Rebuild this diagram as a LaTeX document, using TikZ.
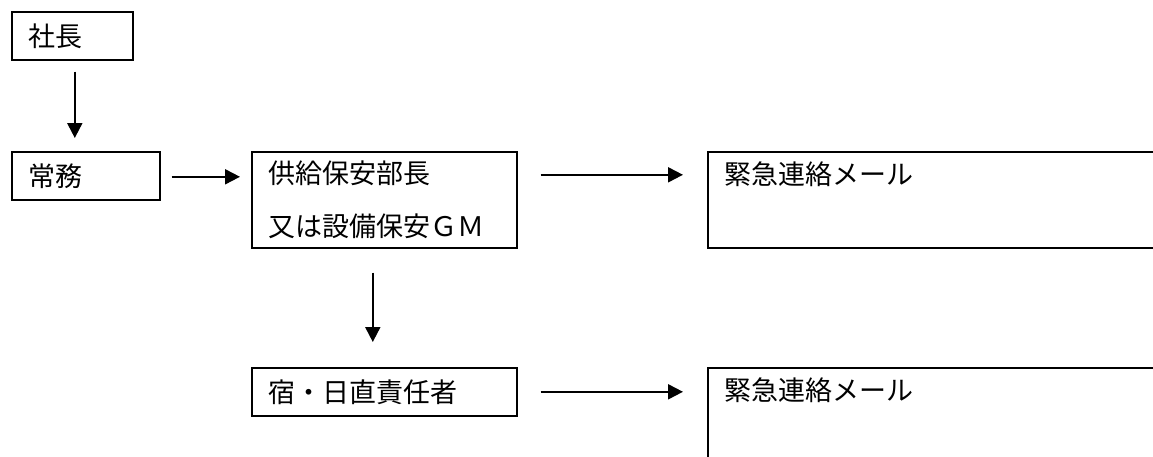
\documentclass[tikz,border=0pt]{standalone}
\usepackage{fontspec}
\setmainfont{Noto Sans CJK JP}
\usetikzlibrary{arrows.meta}
\tikzset{
  box/.style={draw, line width=1.6pt, anchor=north west, inner xsep=17pt, inner ysep=0pt,
    align=left, font=\fontsize{27pt}{53pt}\selectfont},
  arr/.style={line width=2pt, -{Triangle[width=15pt,length=15pt]}},
}
\begin{document}
\begin{tikzpicture}[x=1pt,y=-1pt]
\useasboundingbox (0,0) rectangle (1153,456);
\fill[white] (0,0) rectangle (1153,456);
\clip (0,0) rectangle (1153,456);
\node[box, text width=87pt, minimum height=48pt] (pres) at (11,11) {社長};
\node[box, text width=114pt, minimum height=48pt] (jomu) at (11,151) {常務};
\node[box, text width=231pt, minimum height=96pt] (bucho) at (251,151) {供給保安部長\\又は設備保安ＧＭ};
\node[box, text width=470pt, minimum height=96pt] (mail1) at (707,151) {緊急連絡メール\\\mbox{}};
\node[box, text width=231pt, minimum height=48pt] (shuku) at (251,367) {宿・日直責任者};
\node[box, text width=470pt, minimum height=96pt] (mail2) at (707,367) {緊急連絡メール\\\mbox{}};
\draw[arr, shorten <=11pt, shorten >=13pt] ([xshift=2.5pt]pres.south) -- ([xshift=2.5pt]pres.south |- jomu.north);
\draw[arr, shorten <=11pt, shorten >=11pt] ([yshift=-1pt]jomu.east) -- ([yshift=-1pt]jomu.east -| bucho.west);
\draw[arr, shorten <=23pt, shorten >=24pt] ([yshift=25pt]bucho.east) -- ([yshift=25pt]bucho.east -| mail1.west);
\draw[arr, shorten <=24pt, shorten >=25pt] ([xshift=-11.5pt]bucho.south) -- ([xshift=-11.5pt]bucho.south |- shuku.north);
\draw[arr, shorten <=23pt, shorten >=24pt] (shuku.east) -- (shuku.east -| mail2.west);
\end{tikzpicture}
\end{document}
